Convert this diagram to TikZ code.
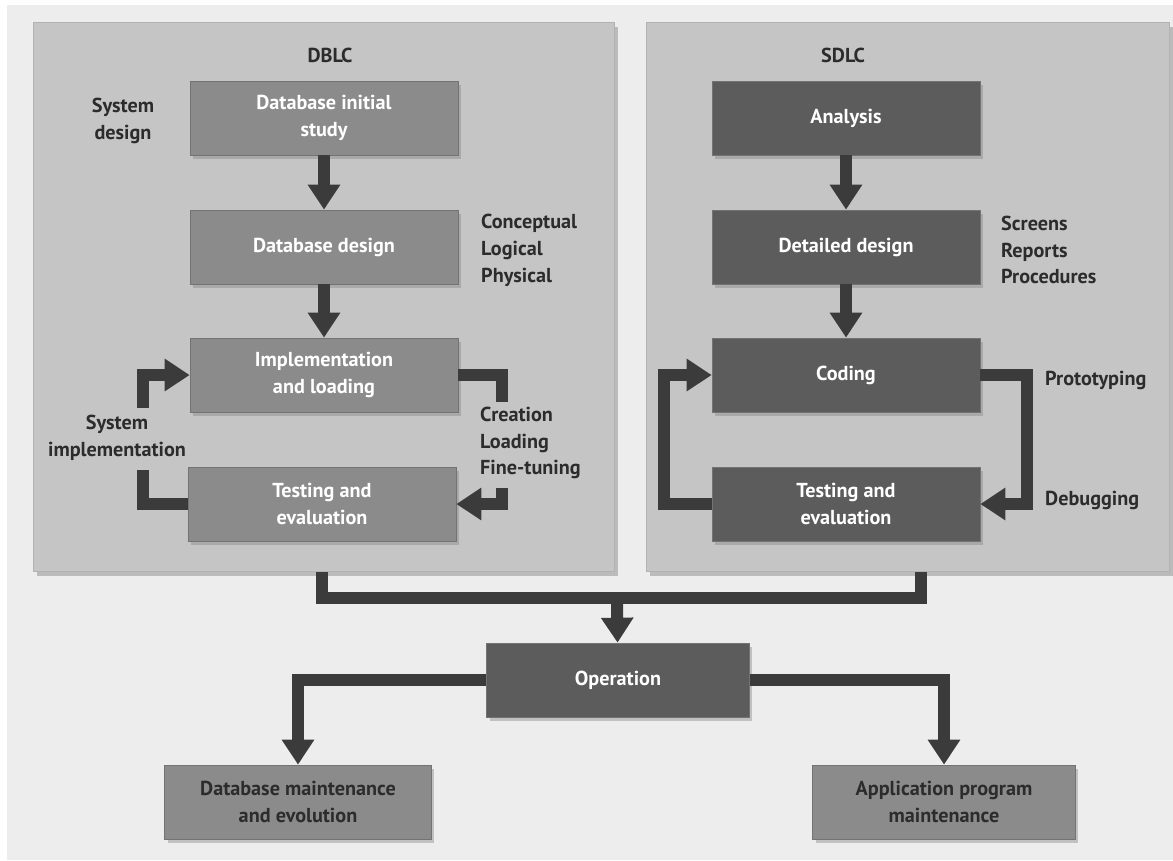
\documentclass[tikz,border=0pt]{standalone}
\usepackage{fontspec}
\setmainfont{PT Sans}
\usetikzlibrary{arrows.meta,positioning,shadows}

\definecolor{pagegray}{HTML}{EDEDED}
\definecolor{panelgray}{HTML}{C5C5C5}
\definecolor{dbgray}{HTML}{8B8B8B}
\definecolor{sdgray}{HTML}{5C5C5C}
\definecolor{flowgray}{HTML}{3B3B3B}
\definecolor{inkgray}{HTML}{2C2C2C}

\tikzset{
  panel/.style={rectangle, fill=panelgray, draw=gray!60, line width=0.6pt,
    drop shadow={shadow xshift=0.07cm, shadow yshift=-0.09cm, opacity=0.45}},
  phase/.style={rectangle, minimum width=5.36cm, minimum height=1.48cm,
    align=center, text=white, draw=black!55, line width=0.4pt,
    font=\bfseries\fontsize{11.5}{15}\selectfont,
    drop shadow={shadow xshift=0.06cm, shadow yshift=-0.07cm, opacity=0.4}},
  dbphase/.style={phase, fill=dbgray},
  sdphase/.style={phase, fill=sdgray},
  afterphase/.style={phase, fill=dbgray, text=inkgray},
  title/.style={text=inkgray, font=\bfseries\fontsize{11.5}{15}\selectfont},
  note/.style={text=inkgray, align=left, font=\bfseries\fontsize{11.5}{15.3}\selectfont},
  flow/.style={draw=flowgray, line width=0.24cm},
  flowarrow/.style={flow, -{Triangle[width=0.62cm,length=0.5cm]}},
}

\begin{document}
\begin{tikzpicture}[x=0.02cm,y=-0.02cm]
  \useasboundingbox (0,0) rectangle (1173,860);
  \fill[pagegray] (7,5) rectangle (1173,860);

  % the two life cycles
  \node[panel, minimum width=11.64cm, minimum height=10.98cm] (dblc) at (324,297) {};
  \node[panel, minimum width=10.48cm, minimum height=10.98cm] (sdlc) at (908,297) {};
  \node[title] (dblctitle) at (330,55) {DBLC};
  \node[title] (sdlctitle) at (843,55) {SDLC};

  % DBLC phases
  \node[dbphase] (dbinit) at (324,118) {Database initial\\study};
  \node[dbphase] (dbdesign) at (324,247) {Database design};
  \node[dbphase] (dbimpl) at (324,375) {Implementation\\and loading};
  \node[dbphase] (dbtest) at (322,504) {Testing and\\evaluation};

  \node[note, align=center] (sysdesign) at (123,121) {System\\design};
  \node[note, anchor=west] (models) at (475,250) {Conceptual\\Logical\\Physical};
  \node[note, align=center] (sysimpl) at (117,438) {System\\implementation};
  \node[note, anchor=west] (tasks) at (474,443) {Creation\\Loading\\Fine-tuning};

  \draw[flowarrow] (dbinit) -- (dbdesign);
  \draw[flowarrow] (dbdesign) -- (dbimpl);

  \coordinate (silow) at (143,470);
  \coordinate (sihigh) at (143,408);
  \draw[flow] (dbtest.west) -| (silow);
  \draw[flowarrow] (sihigh) |- (dbimpl.west);

  \coordinate (crtop) at (502,402);
  \coordinate (crbot) at (502,488);
  \draw[flow] (dbimpl.east) -| (crtop);
  \draw[flowarrow] (crbot) |- (dbtest.east);

  % SDLC phases
  \node[sdphase] (analysis) at (846,118) {Analysis};
  \node[sdphase] (detail) at (846,247) {Detailed design};
  \node[sdphase] (coding) at (846,375) {Coding};
  \node[sdphase] (sdtest) at (846,504) {Testing and\\evaluation};

  \node[note, anchor=west] (outputs) at (995,250) {Screens\\Reports\\Procedures};
  \node[note, anchor=west] (proto) at (1039,380) {Prototyping};
  \node[note, anchor=west] (debug) at (1039,500) {Debugging};

  \draw[flowarrow] (analysis) -- (detail);
  \draw[flowarrow] (detail) -- (coding);

  \coordinate (loopL) at (664,440);
  \coordinate (loopR) at (1027,440);
  \draw[flowarrow] (sdtest.west) -| (loopL) |- (coding.west);
  \draw[flowarrow] (coding.east) -| (loopR) |- (sdtest.east);

  % operation and maintenance
  \node[sdphase, minimum width=5.26cm] (operation) at (618,680) {Operation};
  \node[afterphase, minimum width=5.34cm] (dbmaint) at (298,802) {Database maintenance\\and evolution};
  \node[afterphase, minimum width=5.26cm] (appmaint) at (944,802) {Application program\\maintenance};

  \coordinate (bus) at (617,598);
  \draw[flow] ([xshift=-0.04cm]dblc.south) |- (bus) -| ([xshift=0.26cm]sdlc.south);
  \draw[flowarrow] (bus) -- (operation);
  \draw[flowarrow] (operation.west) -| (dbmaint);
  \draw[flowarrow] (operation.east) -| (appmaint);
\end{tikzpicture}
\end{document}
